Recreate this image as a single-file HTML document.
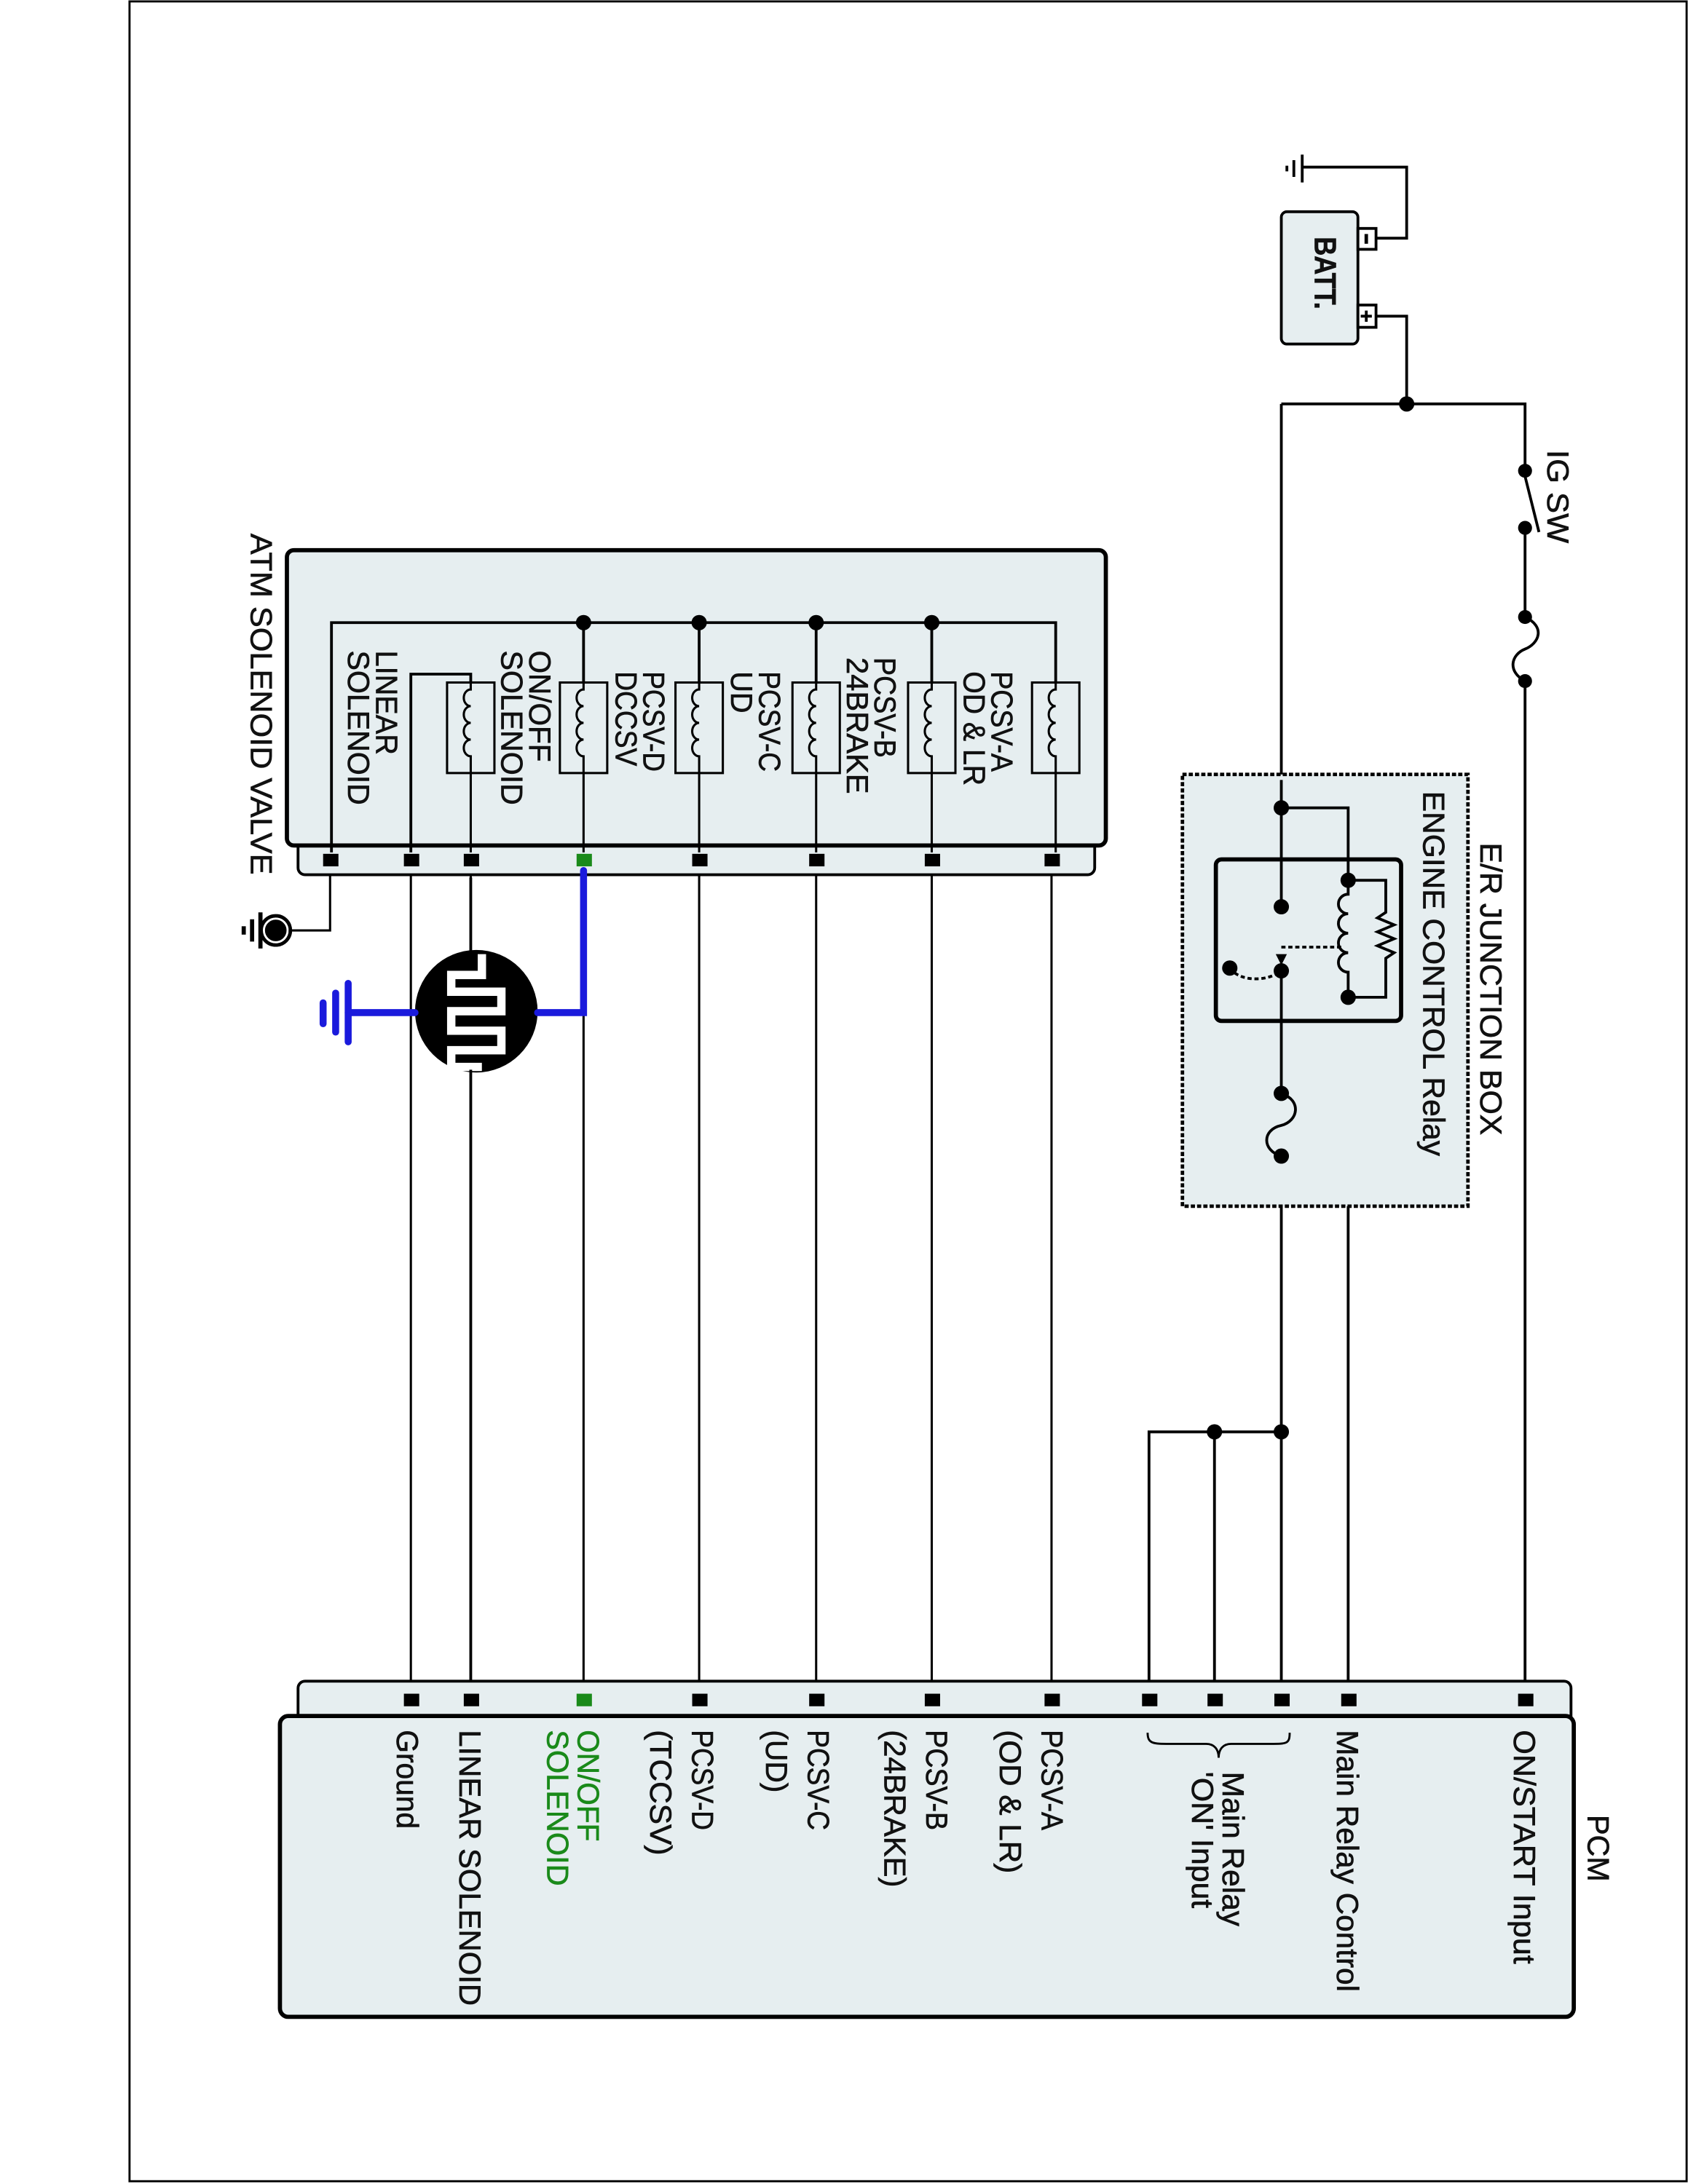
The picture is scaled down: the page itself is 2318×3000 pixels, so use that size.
<!DOCTYPE html>
<html><head><meta charset="utf-8"><style>
html,body{margin:0;padding:0;background:#fff}
svg{display:block}
text{font-family:"Liberation Sans",Arial,sans-serif;font-size:22px;fill:#111;stroke:#111;stroke-width:0.35}
</style></head><body>
<svg width="2318" height="3000" viewBox="0 0 1212 1568" preserveAspectRatio="none" xmlns="http://www.w3.org/2000/svg">
<rect x="0" y="0" width="1212" height="1568" fill="#fff"/>
<path d="M93,1 H1211 V1566 H93 Z" fill="none" stroke="#000" stroke-width="1.5"/>

<g stroke="#000" stroke-width="2" fill="none">
<rect x="920" y="152" width="55" height="95" rx="4" fill="#e6eef0"/>
<rect x="975" y="164" width="13" height="15" fill="#fff"/>
<rect x="975" y="219" width="13" height="16" fill="#fff"/>
<path d="M981,168 V175" stroke-width="2.5"/>
<path d="M981,223 V231 M977,227 H985" stroke-width="2"/>
<path d="M988,171 H1010 V120 H935"/>
<path d="M935,111 V131 M929,115 V127 M924,119 V123"/>
<path d="M988,227 H1010 V290"/>
<path d="M920,290 H1095 V338"/>
<path d="M1095,379 V443"/>
<path d="M1095,342 L1105,382"/>
<path d="M1095,443 C1110,450 1105,462 1095,466 C1085,470 1082,482 1095,489"/>
<path d="M1095,489 V1220"/>
<path d="M920,290 V651"/>
<path d="M920,697 V785"/>
<path d="M920,830 V1220"/>
<path d="M968,716 V1220"/>
<rect x="849" y="556" width="205" height="310" fill="#e6eef0" stroke-dasharray="3,1.5" stroke-width="2.5"/>
<rect x="873" y="617" width="133" height="116" rx="4" stroke-width="3" fill="#e6eef0"/>
<path d="M920,560 V651 M920,697 V785"/>
<path d="M920,580 H968 V632"/>
<path d="M968,632 V642 a6,6 0 0 0 0,14 a6,6 0 0 0 0,14 a6,6 0 0 0 0,14 a6,6 0 0 0 0,14 V716"/>
<path d="M968,632 H995 V655 l-6,4 l12,5 l-12,5 l12,5 l-12,5 l12,5 l-6,4 V716 H968"/>
<path d="M920,680 H965" stroke-dasharray="3,2"/>
<path d="M883,695 C890,705 910,705 920,697" stroke-dasharray="3,2"/>
<path d="M920,785 C935,790 932,805 920,808 C906,811 906,826 920,830"/>
<path d="M825,1220 V1028 H920 M872,1028 V1220"/>
<rect x="214" y="600" width="572" height="28" rx="5" fill="#e6eef0"/>
<rect x="206" y="395" width="588" height="212" rx="5" fill="#e6eef0" stroke-width="3"/>
<path d="M238,612 V447 H758 V490"/>
<path d="M669,447 V490 M586,447 V490 M502,447 V490 M419,447 V490"/>
<path d="M295,612 V484 H338 V490"/>
</g>
<g stroke="#000" stroke-width="1.6" fill="none">
<rect x="741" y="490" width="34" height="65" fill="#e6eef0"/>
<rect x="652" y="490" width="34" height="65" fill="#e6eef0"/>
<rect x="569" y="490" width="34" height="65" fill="#e6eef0"/>
<rect x="485" y="490" width="34" height="65" fill="#e6eef0"/>
<rect x="402" y="490" width="34" height="65" fill="#e6eef0"/>
<rect x="321" y="490" width="34" height="65" fill="#e6eef0"/>
<path d="M758,490 V495 a5,6 0 0 0 0,12 a5,6 0 0 0 0,12 a5,6 0 0 0 0,12 a5,6 0 0 0 0,12 V612"/>
<path d="M669,490 V495 a5,6 0 0 0 0,12 a5,6 0 0 0 0,12 a5,6 0 0 0 0,12 a5,6 0 0 0 0,12 V612"/>
<path d="M586,490 V495 a5,6 0 0 0 0,12 a5,6 0 0 0 0,12 a5,6 0 0 0 0,12 a5,6 0 0 0 0,12 V612"/>
<path d="M502,490 V495 a5,6 0 0 0 0,12 a5,6 0 0 0 0,12 a5,6 0 0 0 0,12 a5,6 0 0 0 0,12 V612"/>
<path d="M419,490 V495 a5,6 0 0 0 0,12 a5,6 0 0 0 0,12 a5,6 0 0 0 0,12 a5,6 0 0 0 0,12 V612"/>
<path d="M338,490 V495 a5,6 0 0 0 0,12 a5,6 0 0 0 0,12 a5,6 0 0 0 0,12 a5,6 0 0 0 0,12 V612"/>
<path d="M295,628 V1220 M338,628 V1220 M502,628 V1220 M586,628 V1220 M669,628 V1220 M755,628 V1220 M419,727 V1220"/>
<path d="M237,628 V668 H206"/>
</g>
<g stroke="#000" fill="none">
<circle cx="198" cy="668" r="7" stroke-width="3" fill="#000"/>
<circle cx="198" cy="668" r="8.5" stroke="#fff" stroke-width="1.5"/>
<circle cx="198" cy="668" r="10.5" stroke-width="2.5"/>
<path d="M187,655 V681" stroke-width="3"/>
<path d="M181,660 V676" stroke-width="3"/>
<path d="M175,665 V671" stroke-width="3"/>
</g>
<circle cx="342" cy="726" r="44" fill="#000"/>
<path d="M346,685 V700 H324 V712 H360 V726 H324 V740 H360 V754 H324 V766 H346" fill="none" stroke="#fff" stroke-width="6"/>
<path d="M338,630 V684 M338,768 V1220" stroke="#000" stroke-width="2"/>
<g stroke="#1a1adc" stroke-width="5" fill="none" stroke-linecap="round">
<path d="M419,625 V727 H386"/>
<path d="M298,727 H250"/>
<path d="M250,706 V748"/>
<path d="M241,713 V741"/>
<path d="M232,720 V735"/>
</g>
<g fill="#000">
<circle cx="1010" cy="290" r="5.5"/>
<circle cx="1095" cy="338" r="5"/><circle cx="1095" cy="379" r="5"/>
<circle cx="1095" cy="443" r="5"/><circle cx="1095" cy="489" r="5"/>
<circle cx="920" cy="580" r="5.5"/>
<circle cx="968" cy="632" r="5.5"/><circle cx="968" cy="716" r="5.5"/>
<circle cx="920" cy="651" r="5.5"/><circle cx="920" cy="697" r="5.5"/>
<circle cx="883" cy="695" r="5.5"/>
<path d="M916,685 L924,685 L920,693 Z"/>
<circle cx="920" cy="785" r="5.5"/><circle cx="920" cy="830" r="5.5"/>
<circle cx="872" cy="1028" r="5.5"/><circle cx="920" cy="1028" r="5.5"/>
<circle cx="419" cy="447" r="5.5"/><circle cx="502" cy="447" r="5.5"/>
<circle cx="586" cy="447" r="5.5"/><circle cx="669" cy="447" r="5.5"/>
</g>
<g fill="#000">
<rect x="232" y="613" width="11" height="9"/><rect x="290" y="613" width="11" height="9"/>
<rect x="333" y="613" width="11" height="9"/><rect x="497" y="613" width="11" height="9"/>
<rect x="581" y="613" width="11" height="9"/><rect x="664" y="613" width="11" height="9"/>
<rect x="750" y="613" width="11" height="9"/>
</g>
<rect x="414" y="613" width="11" height="9" fill="#1a8a1a"/>
<rect x="214" y="1207" width="914" height="35" rx="5" fill="#e6eef0" stroke="#000" stroke-width="2"/>
<rect x="201" y="1232" width="929" height="216" rx="6" fill="#e6eef0" stroke="#000" stroke-width="3"/>
<g fill="#000">
<rect x="290" y="1216" width="11" height="9"/><rect x="333" y="1216" width="11" height="9"/>
<rect x="497" y="1216" width="11" height="9"/><rect x="581" y="1216" width="11" height="9"/>
<rect x="664" y="1216" width="11" height="9"/><rect x="750" y="1216" width="11" height="9"/>
<rect x="820" y="1216" width="11" height="9"/><rect x="867" y="1216" width="11" height="9"/>
<rect x="915" y="1216" width="11" height="9"/><rect x="963" y="1216" width="11" height="9"/>
<rect x="1090" y="1216" width="11" height="9"/>
</g>
<rect x="414" y="1216" width="11" height="9" fill="#1a8a1a"/>
<path d="M824,1244 C824,1252 828,1252 840,1252 L866,1252 C872,1252 875,1256 875,1262 C875,1256 878,1252 884,1252 L912,1252 C924,1252 926,1252 926,1244" fill="none" stroke="#000" stroke-width="1.5"/>

<g>
<text transform="translate(944,170) rotate(90)" font-weight="bold" textLength="52" lengthAdjust="spacingAndGlyphs">BATT.</text>
<text transform="translate(1111,323) rotate(90)" textLength="67" lengthAdjust="spacingAndGlyphs">IG SW</text>
<text transform="translate(1063,605) rotate(90)" textLength="210" lengthAdjust="spacingAndGlyphs">E/R JUNCTION BOX</text>
<text transform="translate(1022,568) rotate(90)" textLength="262" lengthAdjust="spacingAndGlyphs">ENGINE CONTROL Relay</text>
<text transform="translate(180,383) rotate(90)" textLength="245" lengthAdjust="spacingAndGlyphs">ATM SOLENOID VALVE</text>

<text transform="translate(712,482) rotate(90)" textLength="72" lengthAdjust="spacingAndGlyphs">PCSV-A</text>
<text transform="translate(692,482) rotate(90)" textLength="82" lengthAdjust="spacingAndGlyphs">OD &amp; LR</text>
<text transform="translate(628,472) rotate(90)" textLength="72" lengthAdjust="spacingAndGlyphs">PCSV-B</text>
<text transform="translate(608,472) rotate(90)" textLength="98" lengthAdjust="spacingAndGlyphs">24BRAKE</text>
<text transform="translate(545,482) rotate(90)" textLength="72" lengthAdjust="spacingAndGlyphs">PCSV-C</text>
<text transform="translate(525,482) rotate(90)" textLength="30" lengthAdjust="spacingAndGlyphs">UD</text>
<text transform="translate(462,482) rotate(90)" textLength="72" lengthAdjust="spacingAndGlyphs">PCSV-D</text>
<text transform="translate(442,482) rotate(90)" textLength="68" lengthAdjust="spacingAndGlyphs">DCCSV</text>
<text transform="translate(380,467) rotate(90)" textLength="80" lengthAdjust="spacingAndGlyphs">ON/OFF</text>
<text transform="translate(360,467) rotate(90)" textLength="111" lengthAdjust="spacingAndGlyphs">SOLENOID</text>
<text transform="translate(270,467) rotate(90)" textLength="75" lengthAdjust="spacingAndGlyphs">LINEAR</text>
<text transform="translate(250,467) rotate(90)" textLength="111" lengthAdjust="spacingAndGlyphs">SOLENOID</text>

<text transform="translate(1140,1303) rotate(90)" textLength="48" lengthAdjust="spacingAndGlyphs">PCM</text>
<text transform="translate(1087,1242) rotate(90)" textLength="168" lengthAdjust="spacingAndGlyphs">ON/START Input</text>
<text transform="translate(960,1242) rotate(90)" textLength="188" lengthAdjust="spacingAndGlyphs">Main Relay Control</text>
<text transform="translate(878,1272) rotate(90)" textLength="111" lengthAdjust="spacingAndGlyphs">Main Relay</text>
<text transform="translate(856,1272) rotate(90)" textLength="98" lengthAdjust="spacingAndGlyphs">'ON' Input</text>
<text transform="translate(748,1242) rotate(90)" textLength="72" lengthAdjust="spacingAndGlyphs">PCSV-A</text>
<text transform="translate(718,1242) rotate(90)" textLength="103" lengthAdjust="spacingAndGlyphs">(OD &amp; LR)</text>
<text transform="translate(665,1242) rotate(90)" textLength="72" lengthAdjust="spacingAndGlyphs">PCSV-B</text>
<text transform="translate(635,1242) rotate(90)" textLength="113" lengthAdjust="spacingAndGlyphs">(24BRAKE)</text>
<text transform="translate(580,1242) rotate(90)" textLength="72" lengthAdjust="spacingAndGlyphs">PCSV-C</text>
<text transform="translate(550,1242) rotate(90)" textLength="45" lengthAdjust="spacingAndGlyphs">(UD)</text>
<text transform="translate(497,1242) rotate(90)" textLength="72" lengthAdjust="spacingAndGlyphs">PCSV-D</text>
<text transform="translate(467,1242) rotate(90)" textLength="90" lengthAdjust="spacingAndGlyphs">(TCCSV)</text>
<text transform="translate(415,1242) rotate(90)" textLength="80" lengthAdjust="spacingAndGlyphs" style="fill:#1a8a1a;stroke:#1a8a1a">ON/OFF</text>
<text transform="translate(393,1242) rotate(90)" textLength="112" lengthAdjust="spacingAndGlyphs" style="fill:#1a8a1a;stroke:#1a8a1a">SOLENOID</text>
<text transform="translate(330,1242) rotate(90)" textLength="198" lengthAdjust="spacingAndGlyphs">LINEAR SOLENOID</text>
<text transform="translate(285,1242) rotate(90)" textLength="71" lengthAdjust="spacingAndGlyphs">Ground</text>
</g>
</svg>
</body></html>
